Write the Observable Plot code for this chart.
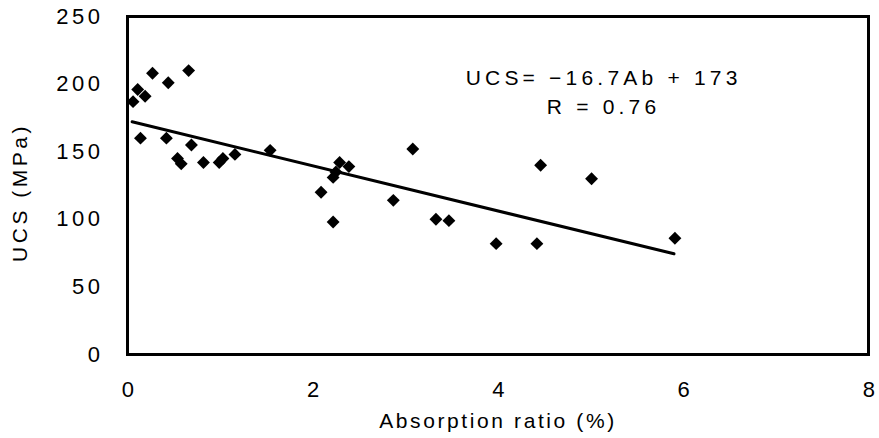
<!DOCTYPE html>
<html>
<head>
<meta charset="utf-8">
<script src="https://cdn.jsdelivr.net/npm/d3@7"></script>
<script src="https://cdn.jsdelivr.net/npm/@observablehq/plot@0.6"></script>
<style>
  html, body { margin: 0; padding: 0; background: #fff; }
  #chart svg { display: block; }
  #chart svg text { letter-spacing: 3.5px; }
  #chart svg .eq text { letter-spacing: 4.2px; }
  #chart svg .xlabel text { letter-spacing: 2.6px; }
</style>
</head>
<body>
<div id="chart"></div>
<script>
// Absorption ratio (%) and uniaxial compressive strength (MPa) of each specimen
const absorption = [0.06, 0.11, 0.19, 0.27, 0.44, 0.66, 0.14, 0.42, 0.69, 0.54, 0.58, 0.82, 0.99, 1.03, 1.16,
  1.54, 2.09, 2.22, 2.22, 2.25, 2.29, 2.39, 2.87, 3.08, 3.33, 3.47, 3.98, 4.42, 4.46, 5.01, 5.91];
const ucs = [187, 196, 191, 208, 201, 210, 160, 160, 155, 145, 141, 142, 142, 145, 148,
  151, 120, 98, 131, 135, 142, 139, 114, 152, 100, 99, 82, 82, 140, 130, 86];

// Linear fit: UCS = -16.7 Ab + 173, R = 0.76
const slope = -16.7;
const intercept = 173;
const fitRange = [0.05, 5.9];
const equationLines = ["UCS= \u221216.7Ab + 173", "R = 0.76"];
const equationPos = { x: 5.14, y: [204.5, 182.7] };

const xTicks = [0, 2, 4, 6, 8];
const yTicks = [0, 50, 100, 150, 200, 250];

const points = absorption.map((a, i) => ({ a, u: ucs[i] }));
const fit = fitRange.map(a => ({ a, u: slope * a + intercept }));
const eq = equationLines.map((t, i) => ({ t, x: equationPos.x, y: equationPos.y[i] }));

const font = "'Liberation Sans', Arial, sans-serif";

const chart = Plot.plot({
  width: 879,
  height: 438,
  marginLeft: 127,
  marginRight: 11,
  marginTop: 16,
  marginBottom: 84,
  style: { fontFamily: font, fontSize: "21px", color: "#000", background: "#fff" },
  x: { domain: [0, 8] },
  y: { domain: [0, 250] },
  marks: [
    Plot.axisX({ ticks: xTicks, tickSize: 0, tickPadding: 27, label: null, fontSize: 22, dx: 2 }),
    Plot.axisY({ ticks: yTicks, tickSize: 0, tickPadding: 24, label: null, fontSize: 22 }),
    Plot.frame({ stroke: "#000", strokeWidth: 3 }),
    Plot.line(fit, { x: "a", y: "u", stroke: "#000", strokeWidth: 3 }),
    Plot.dot(points, { x: "a", y: "u", symbol: "diamond2", r: 5.8, fill: "#000", stroke: "none" }),
    Plot.text(eq, { x: "x", y: "y", text: "t", fontSize: 21, fill: "#000", textAnchor: "middle", className: "eq" }),
    Plot.text(["Absorption ratio (%)"], { frameAnchor: "bottom", dy: 73, fontSize: 21, fill: "#000", textAnchor: "middle", className: "xlabel" }),
    Plot.text(["UCS (MPa)"], { frameAnchor: "left", dx: -107, dy: 7, rotate: -90, fontSize: 21, fill: "#000", textAnchor: "middle" })
  ]
});

document.getElementById("chart").appendChild(chart);
</script>
</body>
</html>
